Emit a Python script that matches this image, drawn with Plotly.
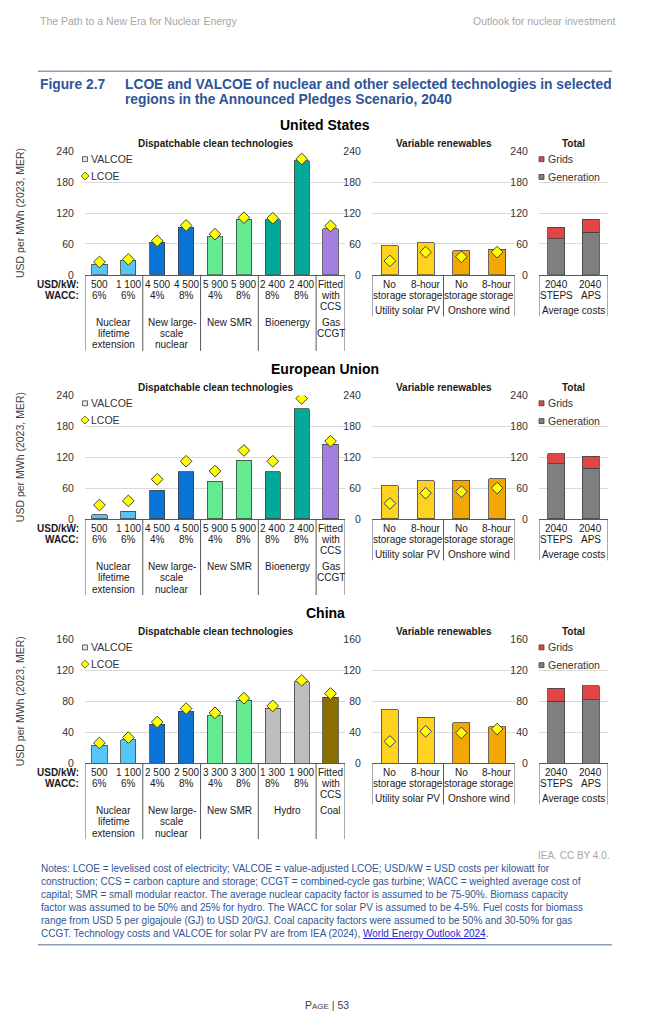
import plotly.graph_objects as go

W, H = 655, 1024
FONT = "Liberation Sans, Arial, sans-serif"

# ---------------- data ----------------
region_names = ["United States", "European Union", "China"]

# Dispatchable clean technologies
us_disp_valcoe = [21, 28, 63, 92, 74, 108, 107, 222, 89]
us_disp_lcoe = [25, 30, 66, 96, 79, 111, 110, 225, 95]
eu_disp_valcoe = [8, 15, 56, 92, 73, 114, 92, 214, 145]
eu_disp_lcoe = [27, 35, 77, 112, 93, 133, 112, 234, 151]
cn_disp_valcoe = [23, 30, 50, 67, 61, 81, 71, 105, 85]
cn_disp_lcoe = [26, 33, 53, 70.5, 65, 84, 74, 107, 90]

us_cost = ["500", "1 100", "4 500", "4 500", "5 900", "5 900", "2 400", "2 400", "Fitted"]
eu_cost = ["500", "1 100", "4 500", "4 500", "5 900", "5 900", "2 400", "2 400", "Fitted"]
cn_cost = ["500", "1 100", "2 500", "2 500", "3 300", "3 300", "1 300", "1 900", "Fitted"]
disp_wacc = ["6%", "6%", "4%", "8%", "4%", "8%", "8%", "8%", "with"]
disp_third = ["", "", "", "", "", "", "", "", "CCS"]

us_groups = ["Nuclear<br>lifetime<br>extension", "New large-<br>scale<br>nuclear", "New SMR", "Bioenergy", "Gas<br>CCGT"]
eu_groups = ["Nuclear<br>lifetime<br>extension", "New large-<br>scale<br>nuclear", "New SMR", "Bioenergy", "Gas<br>CCGT"]
cn_groups = ["Nuclear<br>lifetime<br>extension", "New large-<br>scale<br>nuclear", "New SMR", "Hydro", "Coal"]
disp_group_sizes = [2, 2, 2, 2, 1]

# Variable renewables
us_vre_valcoe = [56, 62, 47, 50]
us_vre_lcoe = [27, 44, 35, 44]
eu_vre_valcoe = [64, 74, 75, 78]
eu_vre_lcoe = [30, 50, 53, 60]
cn_vre_valcoe = [69, 59, 52, 47]
cn_vre_lcoe = [28, 41, 39, 44]
vre_line1 = ["No", "8-hour", "No", "8-hour"]
vre_line2 = ["storage", "storage", "storage", "storage"]
vre_groups = ["Utility solar PV", "Onshore wind"]
vre_group_sizes = [2, 2]

# Total average costs
us_generation = [70, 83]
us_grids = [22, 25]
eu_generation = [107, 98]
eu_grids = [20, 24]
cn_generation = [80, 82]
cn_grids = [17, 18]
tot_line1 = ["2040", "2040"]
tot_line2 = ["STEPS", "APS"]
tot_groups = ["Average costs"]
tot_group_sizes = [2]

y_max = [240, 240, 160]
y_step = [60, 60, 40]

# ---------------- styles ----------------
C_LTE, C_NUC, C_SMR = "#55c6f7", "#0b74d6", "#63eb91"
C_BIO, C_GAS, C_HYD, C_COAL = "#00a99a", "#a67fe3", "#bdbdbd", "#8c6d00"
C_SOLAR, C_WIND = "#ffd21e", "#f2a800"
C_GEN, C_GRID = "#7f7f7f", "#e04646"
OUTLINE = "#404040"
disp_colors_std = [C_LTE, C_LTE, C_NUC, C_NUC, C_SMR, C_SMR, C_BIO, C_BIO, C_GAS]
disp_colors_cn = [C_LTE, C_LTE, C_NUC, C_NUC, C_SMR, C_SMR, C_HYD, C_HYD, C_COAL]
vre_colors = [C_SOLAR, C_SOLAR, C_WIND, C_WIND]

panel_top = [147, 394, 641]
PLOT_H = 125
x_dom = [(85, 345), (372, 515), (539, 608)]
TXT = "#1a1a1a"
TICK = "#333333"
BLUE = "#2e5597"

fig = go.Figure()
anns = []
shapes = []


def px(x):
    return x / W


def py(y):
    return 1 - y / H


def add_text(text, x, y, xref="paper", size=10, color=TXT, bold=False,
             xanchor="center", yanchor="middle", angle=0, family=FONT):
    if bold:
        text = "<b>" + text + "</b>"
    anns.append(dict(text=text, x=px(x) if xref == "paper" else x, y=py(y),
                     xref=xref, yref="paper", showarrow=False,
                     xanchor=xanchor, yanchor=yanchor, textangle=angle,
                     font=dict(size=size, color=color, family=family)))


def add_lines(text, x, y0, lh, xref, size=10, color=TXT):
    for i, line in enumerate(text.split("<br>")):
        if line:
            add_text(line, x, y0 + i * lh, xref=xref, size=size, color=color)


def vline(xref, x, y0, y1, color="#595959", width=1):
    shapes.append(dict(type="line", xref=xref, yref="paper", x0=x, x1=x,
                       y0=py(y0), y1=py(y1), line=dict(color=color, width=width)))


def group_dividers(xref, sizes, bottom, depth):
    pos = -0.5
    vline(xref, pos, bottom, bottom + depth)
    for s in sizes:
        pos += s
        vline(xref, pos, bottom, bottom + depth)


def group_centers(sizes):
    centers, start = [], 0
    for s in sizes:
        centers.append(start + (s - 1) / 2)
        start += s
    return centers


def set_axes(idx, k, T, r):
    x0, x1 = x_dom[k]
    n = [9, 4, 2][k]
    fig.update_layout(**{
        f"xaxis{idx}": dict(domain=[px(x0), px(x1)], anchor=f"y{idx}",
                            range=[-0.5, n - 0.5], showgrid=False, zeroline=False,
                            showticklabels=False, ticks="", showline=True,
                            linecolor="#595959", linewidth=1, fixedrange=True),
        f"yaxis{idx}": dict(domain=[py(T + PLOT_H), py(T)], anchor=f"x{idx}",
                            range=[0, y_max[r]], dtick=y_step[r], tick0=0,
                            showgrid=True, gridcolor="#d9d9d9", gridwidth=1,
                            zeroline=False, showline=False, ticks="outside",
                            ticklen=8, tickcolor="rgba(0,0,0,0)",
                            tickfont=dict(size=10.5, color=TICK, family=FONT),
                            fixedrange=True),
    })


def legend_square(x, y, color, text, size=5):
    shapes.append(dict(type="rect", xref="paper", yref="paper",
                       x0=px(x - size / 2), x1=px(x + size / 2),
                       y0=py(y + size / 2), y1=py(y - size / 2),
                       fillcolor=color, line=dict(color=OUTLINE, width=0.8)))
    add_text(text, x + 4, y, size=10.5, color=TICK, xanchor="left")


def legend_diamond(x, y, text, size=4):
    path = (f"M {px(x)} {py(y - size)} L {px(x + size)} {py(y)} "
            f"L {px(x)} {py(y + size)} L {px(x - size)} {py(y)} Z")
    shapes.append(dict(type="path", xref="paper", yref="paper", path=path,
                       fillcolor="#ffff00", line=dict(color=OUTLINE, width=0.8)))
    add_text(text, x + 4, y, size=10.5, color=TICK, xanchor="left")


panels = [
    (us_disp_valcoe, us_disp_lcoe, disp_colors_std, us_cost, us_groups,
     us_vre_valcoe, us_vre_lcoe, us_generation, us_grids),
    (eu_disp_valcoe, eu_disp_lcoe, disp_colors_std, eu_cost, eu_groups,
     eu_vre_valcoe, eu_vre_lcoe, eu_generation, eu_grids),
    (cn_disp_valcoe, cn_disp_lcoe, disp_colors_cn, cn_cost, cn_groups,
     cn_vre_valcoe, cn_vre_lcoe, cn_generation, cn_grids),
]

for r, (dv, dl, dcol, cost, groups, vv, vl, gen, grd) in enumerate(panels):
    T = panel_top[r]
    B = T + PLOT_H
    ia, ib, ic = r * 3 + 1, r * 3 + 2, r * 3 + 3
    for k, idx in enumerate([ia, ib, ic]):
        set_axes(idx, k, T, r)

    # dispatchable
    fig.add_trace(go.Bar(x=list(range(len(dv))), y=dv, width=0.53,
                         marker=dict(color=dcol, line=dict(color=OUTLINE, width=0.8)),
                         name="VALCOE", showlegend=False,
                         xaxis=f"x{ia}", yaxis=f"y{ia}"))
    fig.add_trace(go.Scatter(x=list(range(len(dl))), y=dl, mode="markers",
                             marker=dict(symbol="diamond", size=9, color="#ffff00",
                                         line=dict(color=OUTLINE, width=1)),
                             name="LCOE", showlegend=False,
                             xaxis=f"x{ia}", yaxis=f"y{ia}"))
    # variable renewables
    fig.add_trace(go.Bar(x=list(range(len(vv))), y=vv, width=0.47,
                         marker=dict(color=vre_colors, line=dict(color=OUTLINE, width=0.8)),
                         name="VALCOE", showlegend=False,
                         xaxis=f"x{ib}", yaxis=f"y{ib}"))
    fig.add_trace(go.Scatter(x=list(range(len(vl))), y=vl, mode="markers",
                             marker=dict(symbol="diamond", size=9, color="#ffff00",
                                         line=dict(color=OUTLINE, width=1)),
                             name="LCOE", showlegend=False,
                             xaxis=f"x{ib}", yaxis=f"y{ib}"))
    # totals
    fig.add_trace(go.Bar(x=list(range(len(gen))), y=gen, width=0.48,
                         marker=dict(color=C_GEN, line=dict(color=OUTLINE, width=0.8)),
                         name="Generation", showlegend=False,
                         xaxis=f"x{ic}", yaxis=f"y{ic}"))
    fig.add_trace(go.Bar(x=list(range(len(grd))), y=grd, width=0.48,
                         marker=dict(color=C_GRID, line=dict(color=OUTLINE, width=0.8)),
                         name="Grids", showlegend=False,
                         xaxis=f"x{ic}", yaxis=f"y{ic}"))

    # titles
    add_text(region_names[r], 325, T - 27, size=14, bold=True, color="#000000")
    add_text("Dispatchable clean technologies", 215, T - 8, size=10, bold=True)
    add_text("Variable renewables", 443.5, T - 8, size=10, bold=True)
    add_text("Total", 573.5, T - 8, size=10, bold=True)
    add_text("USD per MWh (2023, MER)", 20, T + PLOT_H / 2, size=10.5,
             color="#404040", angle=-90)

    # legends
    legend_square(85, T + 8, "#e6e6e6", "VALCOE")
    legend_diamond(85, T + 25, "LCOE")
    legend_square(541.5, T + 8, C_GRID, "Grids")
    legend_square(541.5, T + 26, C_GEN, "Generation")

    # dispatchable table
    add_text("USD/kW:", 81, B + 10, size=10, bold=True, xanchor="right")
    add_text("WACC:", 81, B + 21, size=10, bold=True, xanchor="right")
    for i in range(len(dv)):
        add_lines(cost[i], i, B + 10, 11.3, f"x{ia}")
        add_lines(disp_wacc[i], i, B + 21, 11.3, f"x{ia}")
        add_lines(disp_third[i], i, B + 32, 11.3, f"x{ia}")
    for c, g in zip(group_centers(disp_group_sizes), groups):
        add_lines(g, c, B + 48, 11.5, f"x{ia}")
    group_dividers(f"x{ia}", disp_group_sizes, B, 77)

    # vre table
    for i in range(len(vv)):
        add_lines(vre_line1[i], i, B + 10, 11.3, f"x{ib}")
        add_lines(vre_line2[i], i, B + 21, 11.3, f"x{ib}")
    for c, g in zip(group_centers(vre_group_sizes), vre_groups):
        add_lines(g, c, B + 36, 11.3, f"x{ib}")
    group_dividers(f"x{ib}", vre_group_sizes, B, 42)

    # total table
    for i in range(len(gen)):
        add_lines(tot_line1[i], i, B + 10, 11.3, f"x{ic}")
        add_lines(tot_line2[i], i, B + 21, 11.3, f"x{ic}")
    for c, g in zip(group_centers(tot_group_sizes), tot_groups):
        add_lines(g, c, B + 36, 11.3, f"x{ic}")
    group_dividers(f"x{ic}", tot_group_sizes, B, 42)

# ---------------- page text ----------------
add_text("The Path to a New Era for Nuclear Energy", 38, 15, size=10.5,
         color="#a6a6a6", xanchor="left")
add_text("Outlook for nuclear investment", 617, 15, size=10.5,
         color="#a6a6a6", xanchor="right")
shapes.append(dict(type="line", xref="paper", yref="paper", x0=px(38), x1=px(612),
                   y0=py(66), y1=py(66), line=dict(color="#8a9bb3", width=1.5)))
add_text("Figure 2.7", 38, 79, size=13.8, bold=True, color=BLUE, xanchor="left")
add_text("LCOE and VALCOE of nuclear and other selected technologies in selected",
         123, 79, size=13.8, bold=True, color=BLUE, xanchor="left")
add_text("regions in the Announced Pledges Scenario, 2040",
         123, 95, size=13.8, bold=True, color=BLUE, xanchor="left")

add_text("IEA. CC BY 4.0.", 612, 860, size=10, color="#a6a6a6", xanchor="right")
notes = [
    "Notes: LCOE = levelised cost of electricity; VALCOE = value-adjusted LCOE; USD/kW = USD costs per kilowatt for",
    "construction; CCS = carbon capture and storage; CCGT = combined-cycle gas turbine; WACC = weighted average cost of",
    "capital; SMR = small modular reactor. The average nuclear capacity factor is assumed to be 75-90%. Biomass capacity",
    "factor was assumed to be 50% and 25% for hydro. The WACC for solar PV is assumed to be 4-5%. Fuel costs for biomass",
    "range from USD 5 per gigajoule (GJ) to USD 20/GJ. Coal capacity factors were assumed to be 50% and 30-50% for gas",
    "CCGT. Technology costs and VALCOE for solar PV are from IEA (2024), "
    "<span style='color:#1f1fd0'><u>World Energy Outlook 2024</u></span>.",
]
for i, line in enumerate(notes):
    add_text(line, 39, 873 + i * 13.2, size=10, color=BLUE, xanchor="left")
shapes.append(dict(type="line", xref="paper", yref="paper", x0=px(38), x1=px(612),
                   y0=py(950), y1=py(950), line=dict(color="#8a9bb3", width=1.5)))
add_text("P<span style='font-size:8px'>AGE</span> | 53", 327, 1011, size=10.5,
         color="#404040")

fig.update_layout(
    width=W, height=H, margin=dict(l=0, r=0, t=0, b=0),
    paper_bgcolor="white", plot_bgcolor="white",
    barmode="stack", bargap=0.4, showlegend=False,
    font=dict(family=FONT, size=10, color=TXT),
    annotations=anns, shapes=shapes,
)

fig.write_html(
    "out.html",
    config={"displayModeBar": False, "staticPlot": True},
    post_script="document.body.style.margin='0px';"
                "document.documentElement.style.overflow='hidden';",
)
